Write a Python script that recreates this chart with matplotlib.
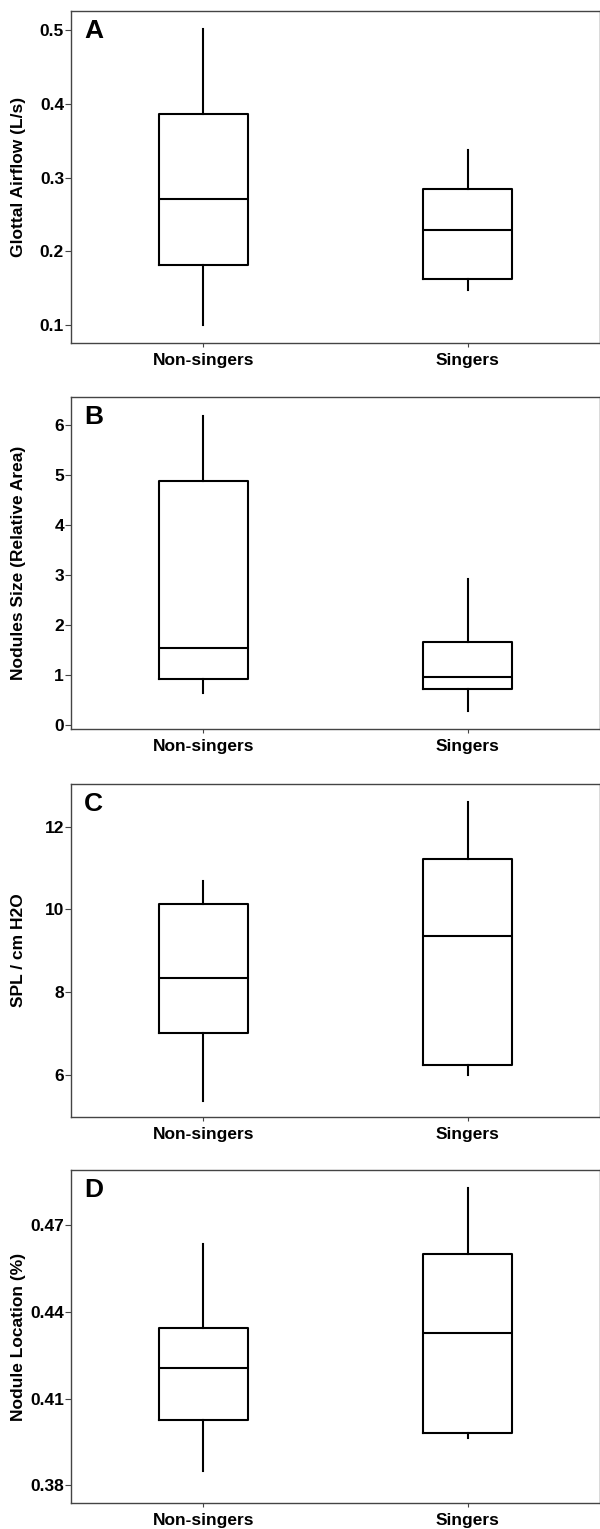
import matplotlib
matplotlib.use("Agg")
import matplotlib.pyplot as plt

plt.rcParams["font.family"] = ["Liberation Sans", "DejaVu Sans"]
plt.rcParams["font.weight"] = "bold"

groups = ["Non-singers", "Singers"]

# panel A: glottal airflow (L/s)
airflow_lo = [0.100, 0.147]
airflow_q1 = [0.181, 0.163]
airflow_med = [0.271, 0.229]
airflow_q3 = [0.386, 0.284]
airflow_hi = [0.501, 0.337]

# panel B: nodule size (relative area)
size_lo = [0.64, 0.28]
size_q1 = [0.93, 0.72]
size_med = [1.55, 0.96]
size_q3 = [4.88, 1.66]
size_hi = [6.18, 2.92]

# panel C: SPL / cm H2O
spl_lo = [5.38, 6.01]
spl_q1 = [7.01, 6.25]
spl_med = [8.34, 9.36]
spl_q3 = [10.14, 11.21]
spl_hi = [10.69, 12.60]

# panel D: nodule location (%)
loc_lo = [0.3848, 0.3962]
loc_q1 = [0.4025, 0.3981]
loc_med = [0.4207, 0.4327]
loc_q3 = [0.4345, 0.4600]
loc_hi = [0.4633, 0.4827]


def make_stats(lo, q1, med, q3, hi):
    stats = []
    for i, name in enumerate(groups):
        stats.append({"label": name, "whislo": lo[i], "q1": q1[i], "med": med[i],
                      "q3": q3[i], "whishi": hi[i], "fliers": []})
    return stats


panels = [
    ("A", "Glottal Airflow (L/s)", make_stats(airflow_lo, airflow_q1, airflow_med, airflow_q3, airflow_hi),
     (0.0755, 0.526), [0.1, 0.2, 0.3, 0.4, 0.5], ["0.1", "0.2", "0.3", "0.4", "0.5"]),
    ("B", "Nodules Size (Relative Area)", make_stats(size_lo, size_q1, size_med, size_q3, size_hi),
     (-0.07, 6.56), [0, 1, 2, 3, 4, 5, 6], ["0", "1", "2", "3", "4", "5", "6"]),
    ("C", "SPL / cm H2O", make_stats(spl_lo, spl_q1, spl_med, spl_q3, spl_hi),
     (4.99, 13.03), [6, 8, 10, 12], ["6", "8", "10", "12"]),
    ("D", "Nodule Location (%)", make_stats(loc_lo, loc_q1, loc_med, loc_q3, loc_hi),
     (0.3739, 0.489), [0.38, 0.41, 0.44, 0.47], ["0.38", "0.41", "0.44", "0.47"]),
]

W, H = 600.0, 1529.0
# (top, bottom) of each axes in pixels
boxes_px = [(11, 343), (397, 729), (784, 1117), (1170, 1503)]
left_px, right_px = 71, 600

fig = plt.figure(figsize=(W / 100, H / 100), dpi=100)

line = dict(color="black", linewidth=1.5)
for (letter, ylabel, stats, ylim, yticks, yticklabels), (top, bottom) in zip(panels, boxes_px):
    ax = fig.add_axes([left_px / W, 1 - bottom / H, (right_px - left_px) / W, (bottom - top) / H])
    ax.bxp(stats, positions=[0, 1], widths=0.335, showcaps=False, showfliers=False,
           boxprops=line, whiskerprops=line, medianprops=line)
    ax.set_xlim(-0.5, 1.5)
    ax.set_ylim(*ylim)
    ax.set_yticks(yticks)
    ax.set_yticklabels(yticklabels, fontsize=12.5, fontweight="bold")
    ax.set_xticks([0, 1])
    ax.set_xticklabels(groups, fontsize=12.5, fontweight="bold")
    ax.set_ylabel(ylabel, fontsize=12.5, fontweight="bold")
    ax.yaxis.set_label_coords(-0.085, 0.5)
    ax.tick_params(axis="y", length=4, width=0.8, color="#444444", pad=1)
    ax.tick_params(axis="x", length=3, width=0.8, color="#444444", pad=4)
    for spine in ax.spines.values():
        spine.set_color("#444444")
        spine.set_linewidth(1.0)
    ax.text(0.025, 0.975, letter, transform=ax.transAxes, fontsize=19, fontweight="bold",
            ha="left", va="top")

fig.savefig("out.png", dpi=100)
